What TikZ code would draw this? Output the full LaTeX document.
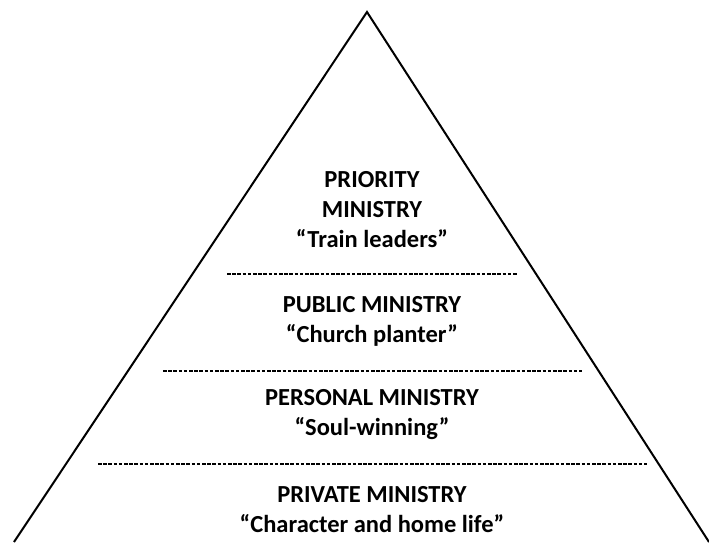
\documentclass[tikz,border=0pt]{standalone}
\usepackage{fontspec}
\setmainfont{Carlito}
\usepackage{tikz}

\begin{document}
\begin{tikzpicture}[x=1pt,y=-1pt,
  tier/.style={font=\bfseries\fontsize{24.5}{30}\selectfont, align=center, inner sep=0pt},
  divider/.style={line width=2.6pt, dash pattern={on 3.6pt off 1.6pt}}]
\useasboundingbox (0,0) rectangle (709,542);

%Shape: Triangle
\coordinate (apex) at (367,12);
\coordinate (baseL) at (14,542);
\coordinate (baseR) at (709,542);
\draw [line width=2pt, line join=miter] (baseL) -- (apex) -- (baseR);

%Dividers
\coordinate (d1L) at (227,274);
\coordinate (d1R) at (518,274);
\coordinate (d2L) at (163,371);
\coordinate (d2R) at (582,371);
\coordinate (d3L) at (98,464);
\coordinate (d3R) at (647,464);
\draw [divider] (d1L) -- (d1R);
\draw [divider] (d2L) -- (d2R);
\draw [divider] (d3L) -- (d3R);

%Tiers
\node [tier] (priority) at (372,210) {PRIORITY\\MINISTRY\\“Train leaders”};
\node [tier] (public) at (372,321) {PUBLIC MINISTRY\\“Church planter”};
\node [tier] (personal) at (372,415) {PERSONAL MINISTRY\\“Soul-winning”};
\node [tier] (private) at (372,510) {PRIVATE MINISTRY\\“Character and home life”};

\end{tikzpicture}
\end{document}
